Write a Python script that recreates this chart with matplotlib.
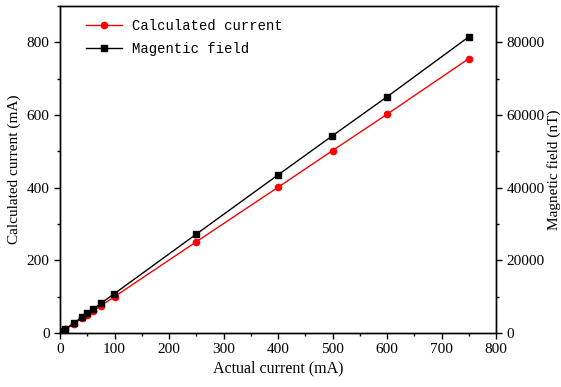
import matplotlib
matplotlib.use('Agg')
import matplotlib.pyplot as plt
from matplotlib.ticker import MultipleLocator

actual = [5, 10, 25, 40, 50, 60, 75, 100, 250, 400, 500, 600, 750]
calculated = [5, 10, 25, 40, 50, 60, 75, 100, 251, 401, 502, 602, 755]
field = [540, 1080, 2700, 4350, 5420, 6500, 8150, 10850, 27200, 43500, 54300, 65000, 81500]

plt.rcParams['font.family'] = 'Liberation Serif'
plt.rcParams['font.size'] = 11

fig = plt.figure(figsize=(5.61, 3.87), dpi=100)
ax = fig.add_axes([60 / 561, 1 - 333 / 387, 436 / 561, 327 / 387])
ax2 = ax.twinx()

l1, = ax.plot(actual, calculated, color='red', marker='o', markersize=4.5, lw=1, label='Calculated current')
l2, = ax2.plot(actual, field, color='black', marker='s', markersize=4.5, lw=1, label='Magentic field')

ax.set_xlim(0, 800)
ax.set_ylim(0, 900)
ax2.set_ylim(0, 90000)
ax.xaxis.set_major_locator(MultipleLocator(100))
ax.xaxis.set_minor_locator(MultipleLocator(50))
ax.yaxis.set_major_locator(MultipleLocator(200))
ax.yaxis.set_minor_locator(MultipleLocator(100))
ax2.yaxis.set_major_locator(MultipleLocator(20000))
ax2.yaxis.set_minor_locator(MultipleLocator(10000))

for a in (ax, ax2):
    a.tick_params(which='major', direction='out', length=4, width=1, labelsize=11)
    a.tick_params(which='minor', direction='out', length=2.5, width=1)
    for s in a.spines.values():
        s.set_linewidth(1)

ax.set_xlabel('Actual current (mA)', fontsize=11.5, labelpad=3)
ax.set_ylabel('Calculated current (mA)', fontsize=11)
ax2.set_ylabel('Magnetic field (nT)', fontsize=11, labelpad=2)

ax.legend(handles=[l1, l2], loc='upper left', bbox_to_anchor=(0.03, 1.0), frameon=False,
          prop={'family': 'Liberation Mono', 'size': 10},
          handlelength=2.6, handletextpad=0.7, borderaxespad=0.55, labelspacing=0.6)

fig.savefig('out.png', dpi=100)
